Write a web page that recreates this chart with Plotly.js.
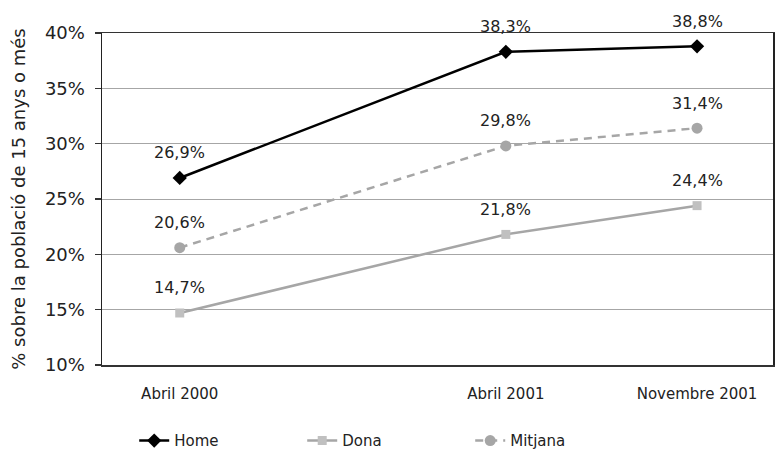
<!DOCTYPE html>
<html>
<head>
<meta charset="utf-8">
<script src="https://cdn.plot.ly/plotly-3.0.1.min.js"></script>
<style>html,body{margin:0;padding:0;background:#fff}#chart{width:777px;height:454px}</style>
</head>
<body>
<div id="chart"></div>
<script>
const dates = ["2000-04-01", "2001-04-01", "2001-11-01"];
const tickLabels = ["Abril 2000", "Abril 2001", "Novembre 2001"];
const home = [26.9, 38.3, 38.8];
const dona = [14.7, 21.8, 24.4];
const mitjana = [20.6, 29.8, 31.4];
const seriesNames = ["Home", "Dona", "Mitjana"];

const FONT = "DejaVu Sans, sans-serif";
const fmt = v => v.toFixed(1).replace('.', ',') + '%';

const traces = [
  {x: dates, y: home, name: seriesNames[0], mode: 'lines+markers',
   line: {color: '#000000', width: 2.5},
   marker: {symbol: 'diamond', size: 11, color: '#000000'}},
  {x: dates, y: dona, name: seriesNames[1], mode: 'lines+markers',
   line: {color: '#a6a6a6', width: 2.5},
   marker: {symbol: 'square', size: 9, color: '#c0c0c0'}},
  {x: dates, y: mitjana, name: seriesNames[2], mode: 'lines+markers',
   line: {color: '#a6a6a6', width: 2.5, dash: '8px,6px'},
   marker: {symbol: 'circle', size: 11, color: '#a6a6a6'}}
];

const annotations = [];
[home, dona, mitjana].forEach(arr => {
  arr.forEach((v, i) => {
    annotations.push({x: dates[i], y: v, xref: 'x', yref: 'y', text: fmt(v),
      showarrow: false, yshift: 25, font: {family: FONT, size: 16, color: '#222'}});
  });
});

const layout = {
  width: 777, height: 454,
  margin: {l: 102, r: 4, t: 33, b: 89},
  paper_bgcolor: '#ffffff', plot_bgcolor: '#ffffff',
  font: {family: FONT, size: 15, color: '#222'},
  showlegend: true,
  legend: {orientation: 'h', x: 0.048, xanchor: 'left',
    yref: 'container', y: 0.029, yanchor: 'middle',
    bgcolor: 'rgba(0,0,0,0)',
    entrywidth: 123, entrywidthmode: 'pixels', font: {family: FONT, size: 15, color: '#222'}},
  xaxis: {type: 'date', range: ['2000-01-05', '2002-01-25'],
    tickmode: 'array', tickvals: dates, ticktext: tickLabels,
    showgrid: false, zeroline: false, ticks: '', ticklabelstandoff: 14,
    showline: true, mirror: true, linecolor: '#333', linewidth: 1.5,
    tickfont: {family: FONT, size: 15, color: '#222'}},
  yaxis: {range: [10, 40], dtick: 5, tick0: 10, ticksuffix: '%',
    ticks: 'outside', ticklen: 6, tickcolor: '#333', tickwidth: 1.5,
    ticklabelstandoff: 6,
    showgrid: true, gridcolor: '#a6a6a6', gridwidth: 1, zeroline: false,
    showline: true, mirror: true, linecolor: '#222', linewidth: 1.5,
    tickfont: {family: FONT, size: 18, color: '#222'},
    title: {text: '% sobre la població de 15 anys o més', font: {family: FONT, size: 18, color: '#222'}, standoff: 14}},
  annotations: annotations
};

Plotly.newPlot('chart', traces, layout, {displayModeBar: false, staticPlot: true});
</script>
</body>
</html>
